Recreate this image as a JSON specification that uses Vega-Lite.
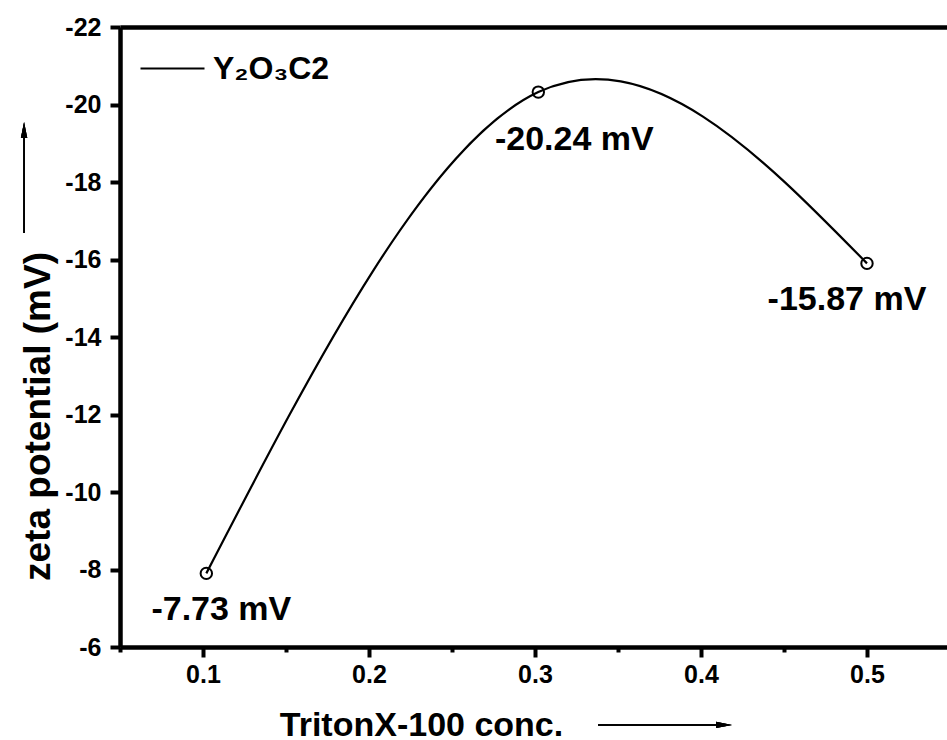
{
  "$schema": "https://vega.github.io/schema/vega-lite/v6.json",
  "width": 827,
  "height": 620,
  "autosize": {"type": "none"},
  "padding": {"left": 120, "top": 27, "right": 0, "bottom": 93},
  "background": "white",
  "config": {
    "font": "Liberation Sans",
    "view": {"stroke": null},
    "axis": {
      "grid": false,
      "domainColor": "black",
      "tickColor": "black",
      "labelColor": "black",
      "titleColor": "black",
      "labelFont": "Liberation Sans",
      "titleFont": "Liberation Sans",
      "labelFontWeight": "bold",
      "titleFontWeight": "bold",
      "labelFontSize": 25
    },
    "style": {"guide-label": {"fontSize": 25, "fontWeight": "bold"}}
  },
  "data": {
    "values": [
      {"conc": 0.102, "zeta": -7.9, "label": "-7.73 mV", "series": "Y₂O₃C2"},
      {"conc": 0.302, "zeta": -20.32, "label": "-20.24 mV", "series": "Y₂O₃C2"},
      {"conc": 0.5, "zeta": -15.9, "label": "-15.87 mV", "series": "Y₂O₃C2"}
    ]
  },
  "layer": [
    {
      "mark": {"type": "line", "interpolate": "natural", "strokeWidth": 2.2},
      "encoding": {
        "x": {
          "field": "conc", "type": "quantitative",
          "scale": {"domain": [0.05, 0.5482], "nice": false, "zero": false},
          "axis": {
            "orient": "bottom",
            "values": [0.05, 0.1, 0.15, 0.2, 0.25, 0.3, 0.35, 0.4, 0.45, 0.5],
            "labelExpr": "abs(datum.value*10 - round(datum.value*10)) > 0.01 ? '' : format(datum.value, '.1f')",
            "tickSize": {"condition": {"test": "abs(datum.value*10 - round(datum.value*10)) > 0.01", "value": 5}, "value": 10},
            "tickWidth": 4,
            "domainWidth": 4.5,
            "labelFontSize": 25,
            "labelFontWeight": "bold",
            "labelPadding": 5,
            "labelOverlap": false,
            "labelFlush": false,
            "title": "TritonX-100 conc.",
            "titleFontSize": 34,
            "titleX": 301,
            "titleY": 88,
            "titleAlign": "center",
            "titleBaseline": "alphabetic"
          }
        },
        "y": {
          "field": "zeta", "type": "quantitative",
          "scale": {"domain": [-22, -6], "reverse": true, "nice": false, "zero": false},
          "axis": {
            "values": [-22, -21, -20, -19, -18, -17, -16, -15, -14, -13, -12, -11, -10, -9, -8, -7, -6],
            "labelExpr": "datum.value % 2 != 0 ? '' : toString(datum.value)",
            "tickSize": {"condition": {"test": "datum.value % 2 != 0", "value": 5}, "value": 10},
            "tickWidth": 4,
            "domainWidth": 4.5,
            "labelFontSize": 25,
            "labelFontWeight": "bold",
            "labelPadding": 9,
            "labelOverlap": false,
            "labelFlush": false,
            "title": "zeta potential (mV)",
            "titleFontSize": 37,
            "titleAngle": -90,
            "titleX": -71,
            "titleY": 389,
            "titleAlign": "center",
            "titleBaseline": "alphabetic"
          }
        },
        "color": {
          "field": "series", "type": "nominal",
          "scale": {"range": ["black"]},
          "legend": {
            "orient": "none",
            "legendX": 19,
            "legendY": 8,
            "title": null,
            "symbolType": "stroke",
            "symbolSize": 4096,
            "symbolStrokeWidth": 2.2,
            "symbolStrokeColor": "black",
            "labelFontSize": 32,
            "labelFontWeight": "bold",
            "labelColor": "black",
            "labelFont": "Liberation Sans",
            "labelOffset": 7,
            "padding": 0
          }
        }
      }
    },
    {
      "mark": {"type": "point", "shape": "circle", "size": 130, "strokeWidth": 2, "color": "black", "filled": false, "opacity": 1},
      "encoding": {
        "x": {"field": "conc", "type": "quantitative", "axis": null},
        "y": {"field": "zeta", "type": "quantitative", "title": "zeta potential (mV)"}
      }
    },
    {
      "transform": [{"filter": "datum.label == '-7.73 mV'"}],
      "mark": {"type": "text", "fontSize": 34, "fontWeight": "bold", "font": "Liberation Sans", "color": "black", "align": "center", "baseline": "middle", "dx": 15, "dy": 37},
      "encoding": {
        "x": {"field": "conc", "type": "quantitative", "axis": null},
        "y": {"field": "zeta", "type": "quantitative", "title": "zeta potential (mV)"},
        "text": {"field": "label"}
      }
    },
    {
      "transform": [{"filter": "datum.label == '-20.24 mV'"}],
      "mark": {"type": "text", "fontSize": 34, "fontWeight": "bold", "font": "Liberation Sans", "color": "black", "align": "center", "baseline": "middle", "dx": 36, "dy": 48},
      "encoding": {
        "x": {"field": "conc", "type": "quantitative", "axis": null},
        "y": {"field": "zeta", "type": "quantitative", "title": "zeta potential (mV)"},
        "text": {"field": "label"}
      }
    },
    {
      "transform": [{"filter": "datum.label == '-15.87 mV'"}],
      "mark": {"type": "text", "fontSize": 34, "fontWeight": "bold", "font": "Liberation Sans", "color": "black", "align": "center", "baseline": "middle", "dx": -20, "dy": 37},
      "encoding": {
        "x": {"field": "conc", "type": "quantitative", "axis": null},
        "y": {"field": "zeta", "type": "quantitative", "title": "zeta potential (mV)"},
        "text": {"field": "label"}
      }
    },
    {
      "mark": {"type": "rule", "opacity": 0},
      "encoding": {
        "x": {
          "field": "conc", "type": "quantitative",
          "axis": {"orient": "top", "labels": false, "ticks": false, "domainWidth": 4.5, "title": null}
        }
      }
    },
    {
      "mark": {"type": "rule", "strokeWidth": 1.5, "color": "black"},
      "encoding": {
        "x": {"datum": 0.338, "type": "quantitative", "axis": null},
        "x2": {"datum": 0.412},
        "y": {"datum": -3.99, "type": "quantitative", "title": "zeta potential (mV)"}
      }
    },
    {
      "mark": {"type": "point", "shape": "M -1 -0.2 L 0 0 L -1 0.2 Z", "size": 1024, "filled": true, "color": "black", "opacity": 1, "strokeWidth": 0},
      "encoding": {
        "x": {"datum": 0.4187, "type": "quantitative", "axis": null},
        "y": {"datum": -3.99, "type": "quantitative", "title": "zeta potential (mV)"}
      }
    },
    {
      "mark": {"type": "rule", "strokeWidth": 1.5, "color": "black"},
      "encoding": {
        "x": {"datum": -0.0078, "type": "quantitative", "axis": null},
        "y": {"datum": -16.684, "type": "quantitative", "title": "zeta potential (mV)"},
        "y2": {"datum": -19.3}
      }
    },
    {
      "mark": {"type": "point", "shape": "M -0.2 1 L 0 0 L 0.2 1 Z", "size": 1024, "filled": true, "color": "black", "opacity": 1, "strokeWidth": 0},
      "encoding": {
        "x": {"datum": -0.0078, "type": "quantitative", "axis": null},
        "y": {"datum": -19.548, "type": "quantitative", "title": "zeta potential (mV)"}
      }
    }
  ],
  "resolve": {"axis": {"x": "independent"}}
}
